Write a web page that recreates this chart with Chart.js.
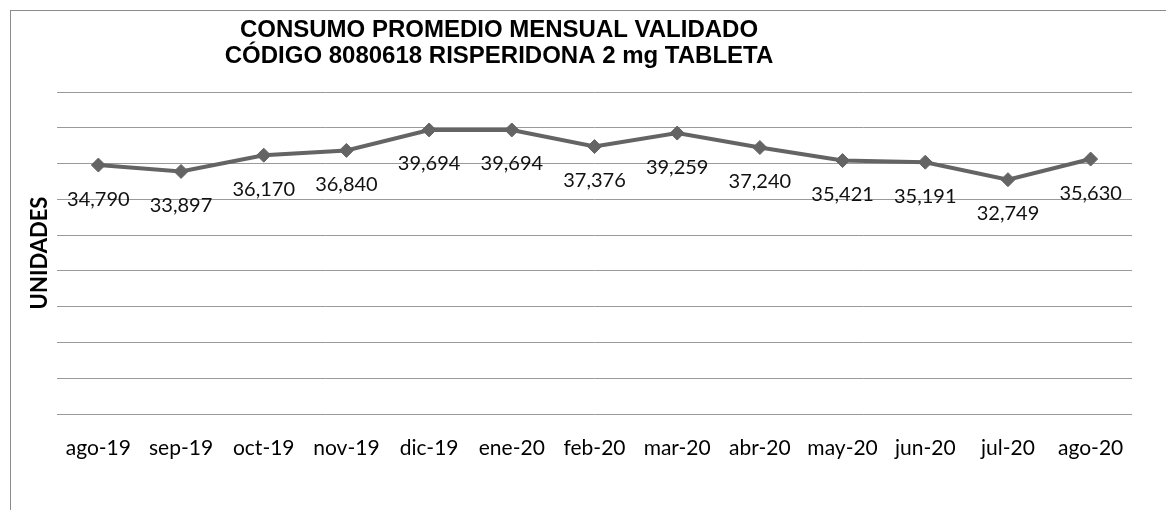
<!DOCTYPE html>
<html>
<head>
<meta charset="utf-8">
<script src="https://cdn.jsdelivr.net/npm/chart.js@4/dist/chart.umd.min.js"></script>
<style>
    body { margin: 0; background: #fff; }
    #wrap { position: relative; width: 1166px; height: 510px; overflow: hidden; }
    #frame { position: absolute; left: 10px; top: 10px; width: 1300px; height: 700px; border: 1.5px solid #8c8c8c; }
    #chart { position: absolute; left: 0; top: 0; }
</style>
</head>
<body>
<div id="wrap">
    <div id="frame"></div>
    <canvas id="chart" width="1166" height="510"></canvas>
</div>
<script>
// --- Chart data ---
const months = ['ago-19', 'sep-19', 'oct-19', 'nov-19', 'dic-19', 'ene-20', 'feb-20', 'mar-20', 'abr-20', 'may-20', 'jun-20', 'jul-20', 'ago-20'];
const consumo = [34790, 33897, 36170, 36840, 39694, 39694, 37376, 39259, 37240, 35421, 35191, 32749, 35630];
const titleLines = ['CONSUMO PROMEDIO MENSUAL VALIDADO', 'CÓDIGO 8080618 RISPERIDONA 2 mg TABLETA'];
const yTitle = 'UNIDADES';

// --- Plugins: title and value labels ---
const titlePlugin = {
    id: 'twoLineTitle',
    afterDraw(chart) {
        const ctx = chart.ctx;
        ctx.save();
        ctx.font = 'bold 24px "Liberation Sans", Arial, sans-serif';
        ctx.fillStyle = '#000';
        ctx.textAlign = 'center';
        ctx.textBaseline = 'middle';
        ctx.fillText(titleLines[0], 499, 30);
        ctx.fillText(titleLines[1], 499, 56);
        ctx.restore();
    }
};

const valueLabels = {
    id: 'valueLabels',
    afterDatasetsDraw(chart) {
        const ctx = chart.ctx;
        const meta = chart.getDatasetMeta(0);
        ctx.save();
        ctx.font = '20px Lato, sans-serif';
        ctx.fillStyle = '#111';
        ctx.textAlign = 'center';
        ctx.textBaseline = 'middle';
        meta.data.forEach((pt, i) => {
            ctx.fillText(consumo[i].toLocaleString('en-US'), pt.x, pt.y + 34);
        });
        ctx.restore();
    }
};

function initializeChart() {
    const ctx = document.getElementById('chart').getContext('2d');
    new Chart(ctx, {
        type: 'line',
        data: {
            labels: months,
            datasets: [{
                data: consumo,
                borderColor: '#646464',
                backgroundColor: '#646464',
                borderWidth: 4,
                pointStyle: 'rectRot',
                pointRadius: 7,
                pointBorderWidth: 1,
                tension: 0
            }]
        },
        options: {
            responsive: false,
            animation: false,
            layout: { padding: { left: 10, top: 92, right: 34, bottom: 0 } },
            plugins: { legend: { display: false }, tooltip: { enabled: false }, title: { display: false } },
            scales: {
                x: {
                    offset: true,
                    grid: { display: false },
                    border: { display: false },
                    ticks: { color: '#000', padding: 14, font: { family: 'Lato', size: 21 }, maxRotation: 0 },
                    afterFit: (scale) => { scale.height = 96; }
                },
                y: {
                    min: 0,
                    max: 45000,
                    ticks: { stepSize: 5000, display: false },
                    grid: { color: '#9a9a9a', lineWidth: 1, drawTicks: false },
                    border: { display: false },
                    title: {
                        display: true,
                        text: yTitle,
                        color: '#000',
                        padding: { top: 17, bottom: 0 },
                        font: { family: 'Lato', size: 22, weight: 'bold' }
                    },
                    afterFit: (scale) => { scale.width = 47; }
                }
            }
        },
        plugins: [titlePlugin, valueLabels]
    });
}

initializeChart();
</script>
</body>
</html>
